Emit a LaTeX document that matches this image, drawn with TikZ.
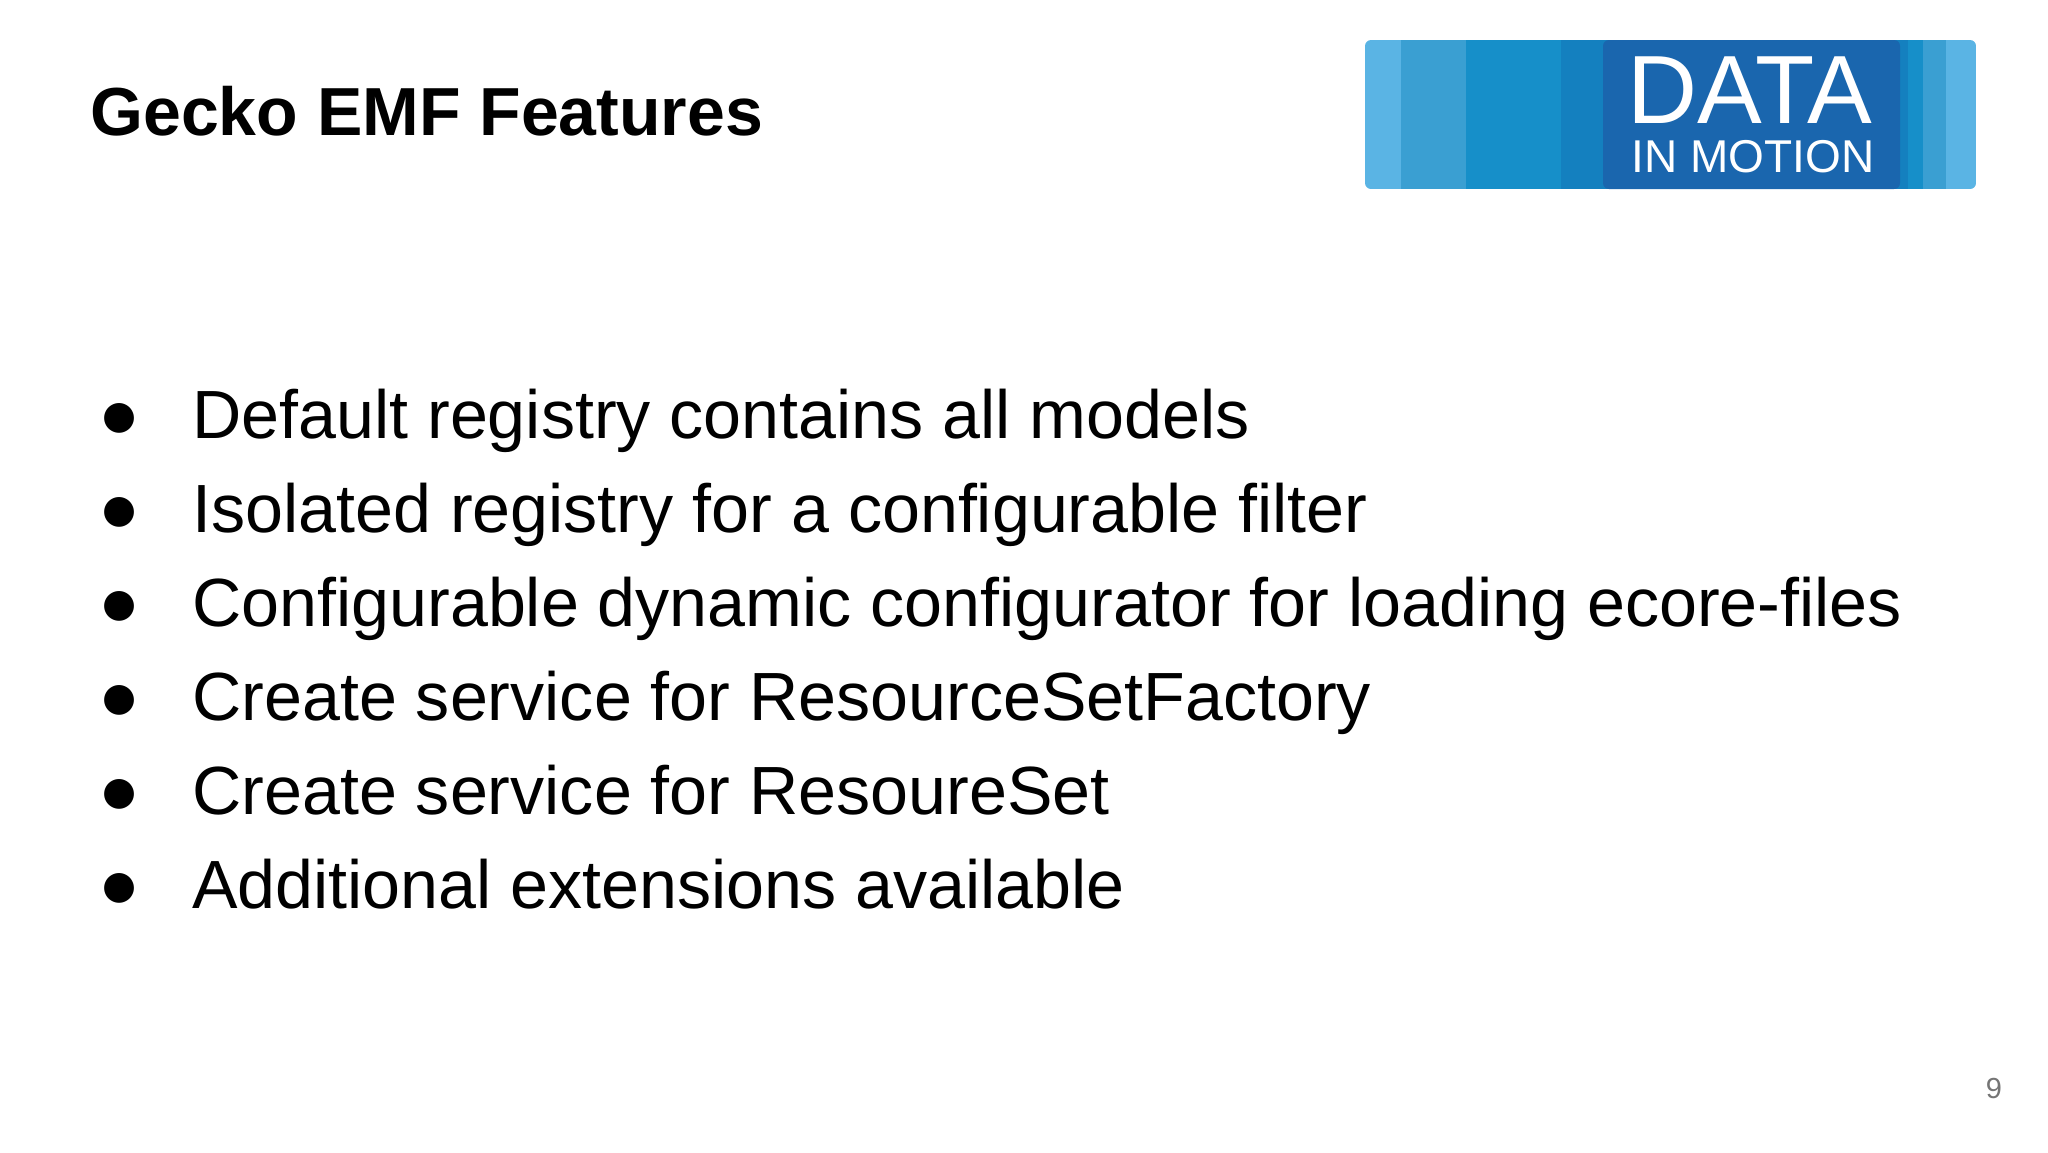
\documentclass[tikz,border=0pt]{standalone}
\usepackage{fontspec}
\setmainfont{Liberation Sans}
\newfontfamily\bulletfont{DejaVu Sans}
\usetikzlibrary{positioning}

\definecolor{logolight}{HTML}{5AB4E4}
\definecolor{logosoft}{HTML}{3A9FD2}
\definecolor{logomid}{HTML}{168FC9}
\definecolor{logodeep}{HTML}{1480BF}
\definecolor{logodark}{HTML}{1A66AE}
\definecolor{slidegray}{HTML}{757575}

\begin{document}
\begin{tikzpicture}[
		x=1pt, y=1pt,
		titlenode/.style={inner sep=0pt, anchor=base west, font=\bfseries\fontsize{34}{40}\selectfont},
		itemnode/.style={inner sep=0pt, anchor=base west, font=\fontsize{34.1}{40}\selectfont},
		dotnode/.style={inner sep=0pt, anchor=base, font=\bulletfont\fontsize{19.5}{24}\selectfont},
	]
		\useasboundingbox (0,0) rectangle (1024,-576);

		%Title
		\node[titlenode] (title) at (45,-67.5) {Gecko EMF Features};

		%Logo
		\begin{scope}
			\clip[rounded corners=3pt] (682.5,-20) rectangle (988,-94.5);
			\fill[logolight] (682.5,-20) rectangle (988,-94.5);
			\fill[logosoft] (700.5,-20) rectangle (973,-94.5);
			\fill[logomid] (733,-20) rectangle (961.5,-94.5);
			\fill[logodeep] (780.5,-20) rectangle (954,-94.5);
			\fill[logodark, rounded corners=3pt] (801.5,-20) rectangle (950,-94.5);
		\end{scope}
		\node (logodata) [inner sep=0pt, anchor=base, text=white, font=\fontsize{48.5}{49}\selectfont] at (875,-61.5) {DATA};
		\node (logomotion) [inner sep=0pt, anchor=base, text=white, font=\fontsize{23}{23}\selectfont] at (876.5,-86) {IN MOTION};

		%Items
		\node[itemnode] (first) at (96,-219) {Default registry contains all models};
		\node[itemnode] (second) at (96,-266) {Isolated registry for a configurable filter};
		\node[itemnode] (third) at (96,-313) {Configurable dynamic configurator for loading ecore-files};
		\node[itemnode] (fourth) at (96,-360) {Create service for ResourceSetFactory};
		\node[itemnode] (fifth) at (96,-407) {Create service for ResoureSet};
		\node[itemnode] (sixth) at (96,-454) {Additional extensions available};

		%Bullets
		\node[dotnode] (dotfirst) at (60,-214) {●};
		\node[dotnode] (dotsecond) at (60,-261) {●};
		\node[dotnode] (dotthird) at (60,-308) {●};
		\node[dotnode] (dotfourth) at (60,-355) {●};
		\node[dotnode] (dotfifth) at (60,-402) {●};
		\node[dotnode] (dotsixth) at (60,-449) {●};

		%Page number
		\node (pagenum) [inner sep=0pt, anchor=base, text=slidegray, font=\fontsize{14.5}{17}\selectfont] at (997,-549) {9};
	\end{tikzpicture}
\end{document}
